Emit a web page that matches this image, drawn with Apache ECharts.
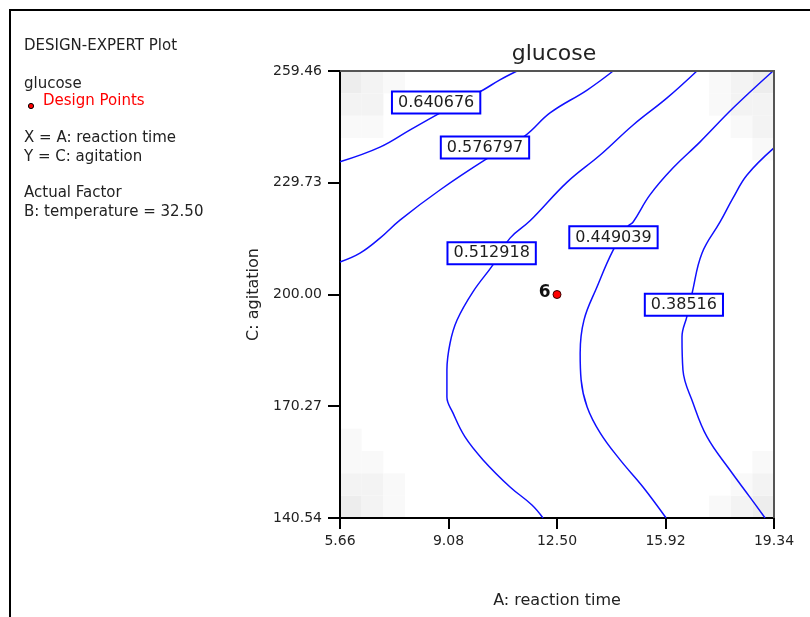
<!DOCTYPE html>
<html>
<head>
<meta charset="utf-8">
<script src="https://cdn.jsdelivr.net/npm/echarts@6/dist/echarts.min.js"></script>
<style>
html,body{margin:0;padding:0;background:#fff;}
#main{width:810px;height:617px;}
</style>
</head>
<body>
<div id="main"></div>
<script>
// ---- data ----
const xTicks = [5.66, 9.08, 12.50, 15.92, 19.34];
const yTicks = [140.54, 170.27, 200.00, 229.73, 259.46];

const contour0640676 = [[5.66,235.3],[6.92,239.2],[7.87,243.8],[8.75,248.0],[9.44,251.1],[10.17,254.4],[10.70,257.1],[11.24,259.46]];
const contour0576797 = [[5.66,208.65],[6.29,211.0],[6.92,215.0],[7.55,219.8],[8.81,227.8],[10.23,235.8],[11.49,242.2],[12.28,248.3],[13.45,254.4],[14.27,259.46]];
const contour0512918 = [[16.91,259.46],[15.97,252.3],[14.90,245.1],[13.86,237.1],[12.82,229.9],[11.65,219.6],[11.02,215.0],[10.48,207.9],[9.85,200.7],[9.35,193.2],[9.13,187.1],[9.03,179.9],[9.03,172.7],[9.22,168.5],[9.60,162.1],[10.17,156.0],[11.02,148.8],[11.71,144.0],[12.06,140.54]];
const contour0449039 = [[19.31,259.46],[18.05,249.6],[17.01,240.6],[16.16,233.7],[15.43,226.5],[14.90,219.3],[14.74,218.2],[14.27,211.8],[13.76,202.0],[13.35,193.2],[13.23,184.4],[13.26,177.3],[13.45,170.1],[13.86,163.2],[14.49,156.0],[15.21,148.8],[15.94,140.54]];
const contour0385160 = [[19.34,239.0],[18.49,231.8],[18.05,225.7],[17.64,219.3],[17.07,211.0],[16.76,200.4],[16.60,194.3],[16.44,188.7],[16.47,179.9],[16.79,171.1],[17.23,162.1],[17.95,153.3],[18.58,146.1],[19.06,140.54]];
const contours = [contour0640676, contour0576797, contour0512918, contour0449039, contour0385160];

const labelTexts = ['0.640676', '0.576797', '0.512918', '0.449039', '0.38516'];
const labelX = [8.69, 10.23, 10.44, 14.28, 16.50];
const labelY = [251.1, 239.1, 211.0, 215.2, 197.3];

const designPoints = [[12.50, 200.00]];
const designLabels = ['6'];

// background shading cells: [col, row-from-top, level] on a 20x20 grid
const shadeCells = [
  [0,0,3],[1,0,2],[2,0,1],[0,1,2],[1,1,2],[0,2,1],[1,2,1],
  [19,0,3],[18,0,2],[17,0,1],[19,1,2],[18,1,2],[17,1,1],[19,2,2],[18,2,1],[19,3,1],
  [0,19,3],[1,19,2],[2,19,1],[0,18,2],[1,18,2],[2,18,1],[0,17,1],[1,17,1],[0,16,1],
  [19,19,3],[18,19,2],[17,19,1],[19,18,2],[18,18,1],[19,17,1]
];
const shadeColors = ['#ffffff', '#f9f9f9', '#f3f3f3', '#ededed'];

const leftText = [
  {t:'DESIGN-EXPERT Plot', c:'#222'},
  {t:'glucose', c:'#222'},
  {t:'Design Points', c:'#ff0000'},
  {t:'X = A: reaction time', c:'#222'},
  {t:'Y = C: agitation', c:'#222'},
  {t:'Actual Factor', c:'#222'},
  {t:'B: temperature = 32.50', c:'#222'}
];
const leftTextY = [46, 84, 101, 138, 157, 193, 212];

// ---- chart ----
const FONT = 'DejaVu Sans';
const xMin = xTicks[0], xMax = xTicks[xTicks.length-1];
const yMin = yTicks[0], yMax = yTicks[yTicks.length-1];
const NC = 20;

const chart = echarts.init(document.getElementById('main'), null, {renderer:'canvas'});

const series = [];
series.push({
  type: 'custom',
  z: 0,
  silent: true,
  clip: true,
  data: shadeCells,
  renderItem: function (params, api) {
    const c = api.value(0), r = api.value(1), lv = api.value(2);
    const dx = (xMax - xMin) / NC, dy = (yMax - yMin) / NC;
    const p0 = api.coord([xMin + c*dx, yMax - r*dy]);
    const p1 = api.coord([xMin + (c+1)*dx, yMax - (r+1)*dy]);
    return {type:'rect', shape:{x:p0[0], y:p0[1], width:p1[0]-p0[0], height:p1[1]-p0[1]},
            style:{fill: shadeColors[lv]}};
  }
});
contours.forEach(function (c, i) {
  series.push({
    type: 'line', z: 2, data: c, showSymbol: false, symbol: 'none', smooth: 0.4,
    lineStyle: {color: '#1010ff', width: 1.5}, silent: true, animation: false
  });
});
series.push({
  type: 'scatter', z: 5, symbolSize: 0, silent: true,
  itemStyle: {opacity: 1},
  data: labelTexts.map(function (t, i) { return [labelX[i], labelY[i], t]; }),
  label: {
    show: true, position: 'inside', opacity: 1,
    formatter: function (p) { return p.value[2]; },
    fontFamily: FONT, fontSize: 16, lineHeight: 15, color: '#1e1e1e',
    backgroundColor: '#ffffff', borderColor: '#0000ff', borderWidth: 2,
    padding: [3, 5, 2, 5]
  }
});
series.push({
  type: 'scatter', z: 6, symbolSize: 8, silent: true,
  itemStyle: {color: '#ff0000', borderColor: '#3a0000', borderWidth: 1, opacity: 1},
  data: designPoints.map(function (p, i) { return [p[0], p[1], designLabels[i]]; }),
  label: {
    show: true, position: 'left', distance: 2, offset: [0, -2],
    formatter: function (p) { return p.value[2]; },
    fontFamily: FONT, fontSize: 17, fontWeight: 'bold', color: '#111'
  }
});

const graphics = [
  {type:'rect', shape:{x:10, y:10, width:830, height:650}, style:{fill:'none', stroke:'#000', lineWidth:2}, z:100},
  {type:'polyline', shape:{points:[[340,71],[774,71],[774,518]]}, style:{fill:'none', stroke:'#555', lineWidth:2}, z:50},
  {type:'text', x:554, y:54, style:{text:'glucose', fontFamily:FONT, fontSize:22, fill:'#222', textAlign:'center', textVerticalAlign:'middle'}},
  {type:'circle', shape:{cx:31, cy:106, r:2.6}, style:{fill:'#ff0000', stroke:'#000', lineWidth:1}}
];
leftText.forEach(function (l, i) {
  graphics.push({type:'text', x: (i === 2 ? 43 : 24), y: leftTextY[i],
    style:{text:l.t, fontFamily:FONT, fontSize:15, fill:l.c, textVerticalAlign:'middle'}});
});

chart.setOption({
  animation: false,
  backgroundColor: '#ffffff',
  grid: {left: 340, top: 71, right: 36, bottom: 99, show: false},
  xAxis: {
    type: 'value', min: xMin, max: xMax,
    name: 'A: reaction time', nameLocation: 'middle', nameGap: 75,
    nameTextStyle: {fontFamily: FONT, fontSize: 16, color: '#222'},
    axisLine: {show: true, onZero: false, lineStyle: {color: '#000', width: 2}},
    axisTick: {show: true, length: 11, lineStyle: {color: '#000', width: 2}, customValues: xTicks},
    axisLabel: {margin: 16, fontFamily: FONT, fontSize: 14, color: '#222', customValues: xTicks,
      formatter: function (v) { return Number(v).toFixed(2); }},
    splitLine: {show: false}
  },
  yAxis: {
    type: 'value', min: yMin, max: yMax,
    name: 'C: agitation', nameLocation: 'middle', nameGap: 72, nameRotate: 90,
    nameTextStyle: {fontFamily: FONT, fontSize: 16, color: '#222'},
    axisLine: {show: true, onZero: false, lineStyle: {color: '#000', width: 2}},
    axisTick: {show: true, length: 12, lineStyle: {color: '#000', width: 2}, customValues: yTicks},
    axisLabel: {margin: 18, fontFamily: FONT, fontSize: 14, color: '#222', customValues: yTicks,
      formatter: function (v) { return Number(v).toFixed(2); }},
    splitLine: {show: false}
  },
  graphic: graphics,
  series: series
});
</script>
</body>
</html>
